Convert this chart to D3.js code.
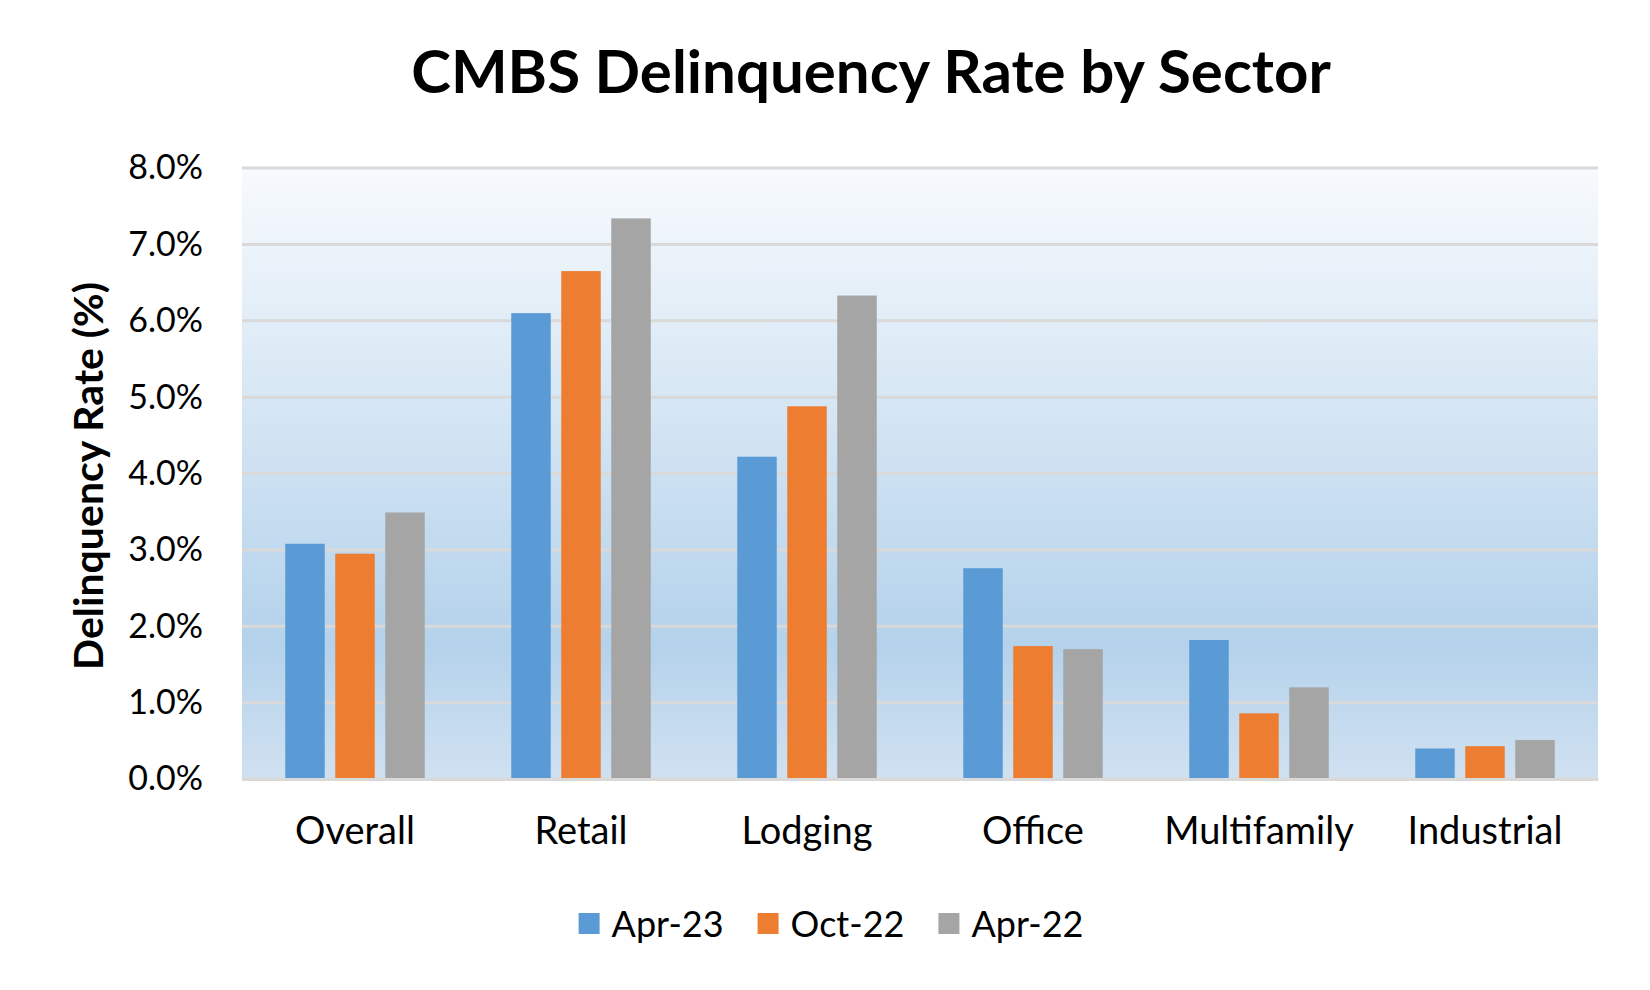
<!DOCTYPE html>
<html>
<head>
<meta charset="utf-8">
<script src="https://cdn.jsdelivr.net/npm/d3@7"></script>
<style>
  html, body { margin: 0; padding: 0; background: #ffffff; }
  svg { display: block; }
  text { font-family: Lato, "Open Sans", sans-serif; fill: #000; }
</style>
</head>
<body>
<svg id="chart" width="1650" height="990"></svg>
<script>
const categories = ["Overall", "Retail", "Lodging", "Office", "Multifamily", "Industrial"];
const seriesNames = ["Apr-23", "Oct-22", "Apr-22"];
const apr23 = [3.08, 6.10, 4.22, 2.76, 1.82, 0.40];
const oct22 = [2.95, 6.65, 4.88, 1.74, 0.86, 0.43];
const apr22 = [3.49, 7.34, 6.33, 1.70, 1.20, 0.51];
const yTicks = [0, 1, 2, 3, 4, 5, 6, 7, 8];
const colors = ["#5b9bd5", "#ed7d31", "#a5a5a5"];
const title = "CMBS Delinquency Rate by Sector";
const yTitle = "Delinquency Rate (%)";

const seriesValues = [apr23, oct22, apr22];

const svg = d3.select("#chart");
const m = { left: 242, right: 1598, top: 168, bottom: 779 };

// background gradient
const defs = svg.append("defs");
const grad = defs.append("linearGradient").attr("id", "bg")
  .attr("x1", 0).attr("y1", 0).attr("x2", 0).attr("y2", 1);
grad.append("stop").attr("offset", "0%").attr("stop-color", "#f7fafd");
grad.append("stop").attr("offset", "78%").attr("stop-color", "#b4d2eb");
grad.append("stop").attr("offset", "100%").attr("stop-color", "#d0e1f1");

svg.append("rect").attr("x", m.left).attr("y", m.top)
  .attr("width", m.right - m.left).attr("height", m.bottom - m.top)
  .attr("fill", "url(#bg)");

const x = d3.scaleBand().domain(categories).range([m.left, m.right]).paddingInner(0).paddingOuter(0);
const y = d3.scaleLinear().domain([0, 8]).range([m.bottom, m.top]);

// gridlines
svg.append("g").selectAll("line").data(yTicks).join("line")
  .attr("x1", m.left).attr("x2", m.right)
  .attr("y1", d => y(d)).attr("y2", d => y(d))
  .attr("stroke", "#d9d9d9").attr("stroke-width", 3);

// y axis labels
const yAxis = d3.axisLeft(y).tickValues(yTicks).tickFormat(d => d3.format(".1f")(d) + "%").tickSize(0).tickPadding(0);
const yg = svg.append("g").attr("transform", `translate(${203},0)`).call(yAxis);
yg.select(".domain").remove();
yg.selectAll("text").style("font-family", "Lato, sans-serif").style("font-size", "34px").attr("fill", "#000");

// bars
const inner = d3.scaleBand().domain(seriesNames).range([0, x.bandwidth()]).paddingInner(0.21).paddingOuter(0.865);
const groups = svg.append("g").selectAll("g").data(categories).join("g")
  .attr("transform", d => `translate(${x(d)},0)`);
groups.selectAll("rect").data((c, i) => seriesNames.map((s, k) => ({ s, k, v: seriesValues[k][i] })))
  .join("rect")
  .attr("x", d => inner(d.s))
  .attr("width", inner.bandwidth())
  .attr("y", d => y(d.v))
  .attr("height", d => y(0) - y(d.v))
  .attr("fill", d => colors[d.k]);

// x axis
const xAxis = d3.axisBottom(x).tickSize(0).tickPadding(0);
const xg = svg.append("g").attr("transform", `translate(0,${m.bottom})`).call(xAxis);
xg.select(".domain").attr("stroke", "#d9d9d9").attr("stroke-width", 3);
xg.selectAll("text").attr("dy", null).attr("y", 65).style("font-family", "Lato, sans-serif").style("font-size", "38px").attr("fill", "#000");

// title
svg.append("text").attr("x", 871).attr("y", 93).attr("text-anchor", "middle")
  .style("font-size", "60px").style("font-weight", "bold").text(title);

// y title
svg.append("text").attr("transform", `translate(103,${476}) rotate(-90)`).attr("text-anchor", "middle")
  .style("font-size", "41px").style("font-weight", "bold").text(yTitle);

// legend
const legend = svg.append("g");
const items = legend.selectAll("g").data(seriesNames).join("g");
items.append("rect").attr("width", 21).attr("height", 21).attr("y", -11).attr("fill", (d, i) => colors[i]);
items.append("text").attr("x", 33).attr("y", 0).attr("dy", "0.35em").style("font-size", "36px").text(d => d);
const widths = [];
items.each(function() { widths.push(d3.select(this).select("text").node().getComputedTextLength()); });
const gap = 34;
const total = widths.reduce((a, w) => a + 33 + w, 0) + gap * (widths.length - 1);
let start = 831 - total / 2;
items.attr("transform", (d, i) => {
  const t = `translate(${start},924)`;
  start += 33 + widths[i] + gap;
  return t;
});
</script>
</body>
</html>
